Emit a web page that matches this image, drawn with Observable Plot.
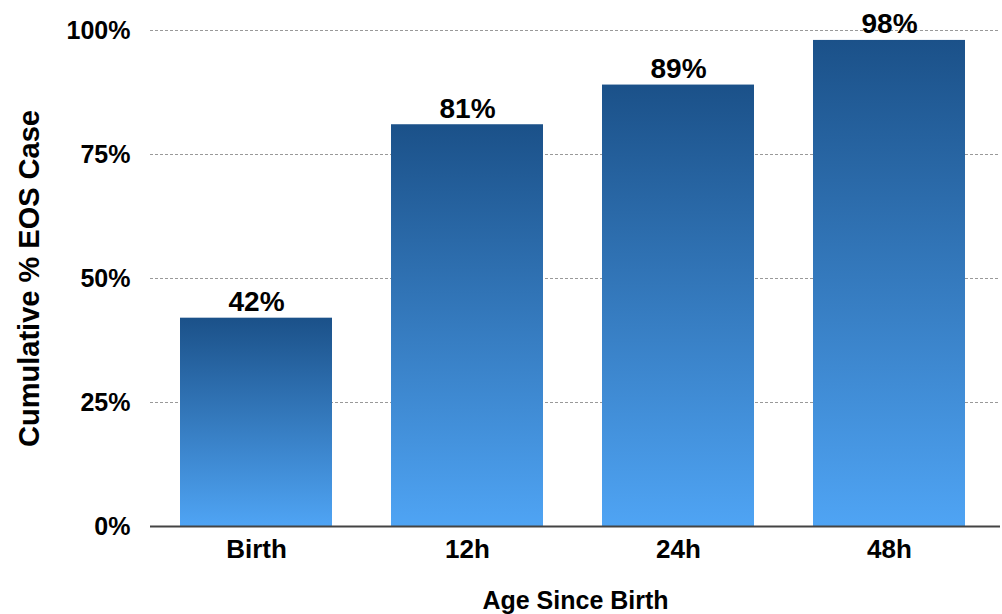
<!DOCTYPE html>
<html>
<head>
<meta charset="utf-8">
<script src="https://cdn.jsdelivr.net/npm/d3@7"></script>
<script src="https://cdn.jsdelivr.net/npm/@observablehq/plot@0.6"></script>
<style>
  html, body { margin: 0; padding: 0; background: #fff; }
</style>
</head>
<body>
<div id="chart"></div>
<script>
const categories = ["Birth", "12h", "24h", "48h"];
const values = [42, 81, 89, 98];
const yTicks = [0, 25, 50, 75, 100];
const gridTicks = [25, 50, 75, 100];

const data = categories.map((c, i) => ({ cat: c, value: values[i] }));

const chart = Plot.plot({
  width: 1002,
  height: 614,
  marginLeft: 150,
  marginRight: 2,
  marginTop: 30,
  marginBottom: 88,
  style: {
    fontFamily: "'Liberation Sans', Arial, Helvetica, sans-serif",
    fontSize: "25px",
    fontWeight: "bold",
    color: "#000",
    background: "#fff"
  },
  x: {
    domain: categories,
    range: [150, 995],
    paddingInner: 0.28,
    paddingOuter: 0.133
  },
  y: {
    domain: [0, 100]
  },
  marks: [
    Plot.ruleY(gridTicks, { stroke: "#999", strokeWidth: 1, strokeDasharray: "3,2" }),
    Plot.barY(data, { x: "cat", y: "value", fill: "url(#barGrad)" }),
    Plot.text(data, {
      x: "cat", y: "value", text: d => d.value + "%",
      lineAnchor: "bottom", dy: -7, fontSize: 28, fontWeight: "bold", fill: "#000"
    }),
    Plot.ruleY([0], { stroke: "#444", strokeWidth: 2 }),
    Plot.axisX({
      tickSize: 0, tickPadding: 13, fontSize: 26,
      label: null
    }),
    Plot.axisX({
      ticks: [], fontSize: 25,
      label: "Age Since Birth", labelAnchor: "center", labelOffset: 82
    }),
    Plot.axisY({
      ticks: yTicks, tickFormat: d => d + "%", tickSize: 0, tickPadding: 20,
      fontSize: 25, label: null
    }),
    Plot.axisY({
      ticks: [], fontSize: 29,
      label: "Cumulative % EOS Case", labelAnchor: "center", labelOffset: 132, labelArrow: "none"
    })
  ]
});

const svg = d3.select(chart);
const defs = svg.insert("defs", ":first-child");
const grad = defs.append("linearGradient")
  .attr("id", "barGrad")
  .attr("x1", 0).attr("y1", 0).attr("x2", 0).attr("y2", 1);
grad.append("stop").attr("offset", "0%").attr("stop-color", "#1b5189");
grad.append("stop").attr("offset", "100%").attr("stop-color", "#4fa4f4");

document.getElementById("chart").appendChild(chart);
</script>
</body>
</html>
